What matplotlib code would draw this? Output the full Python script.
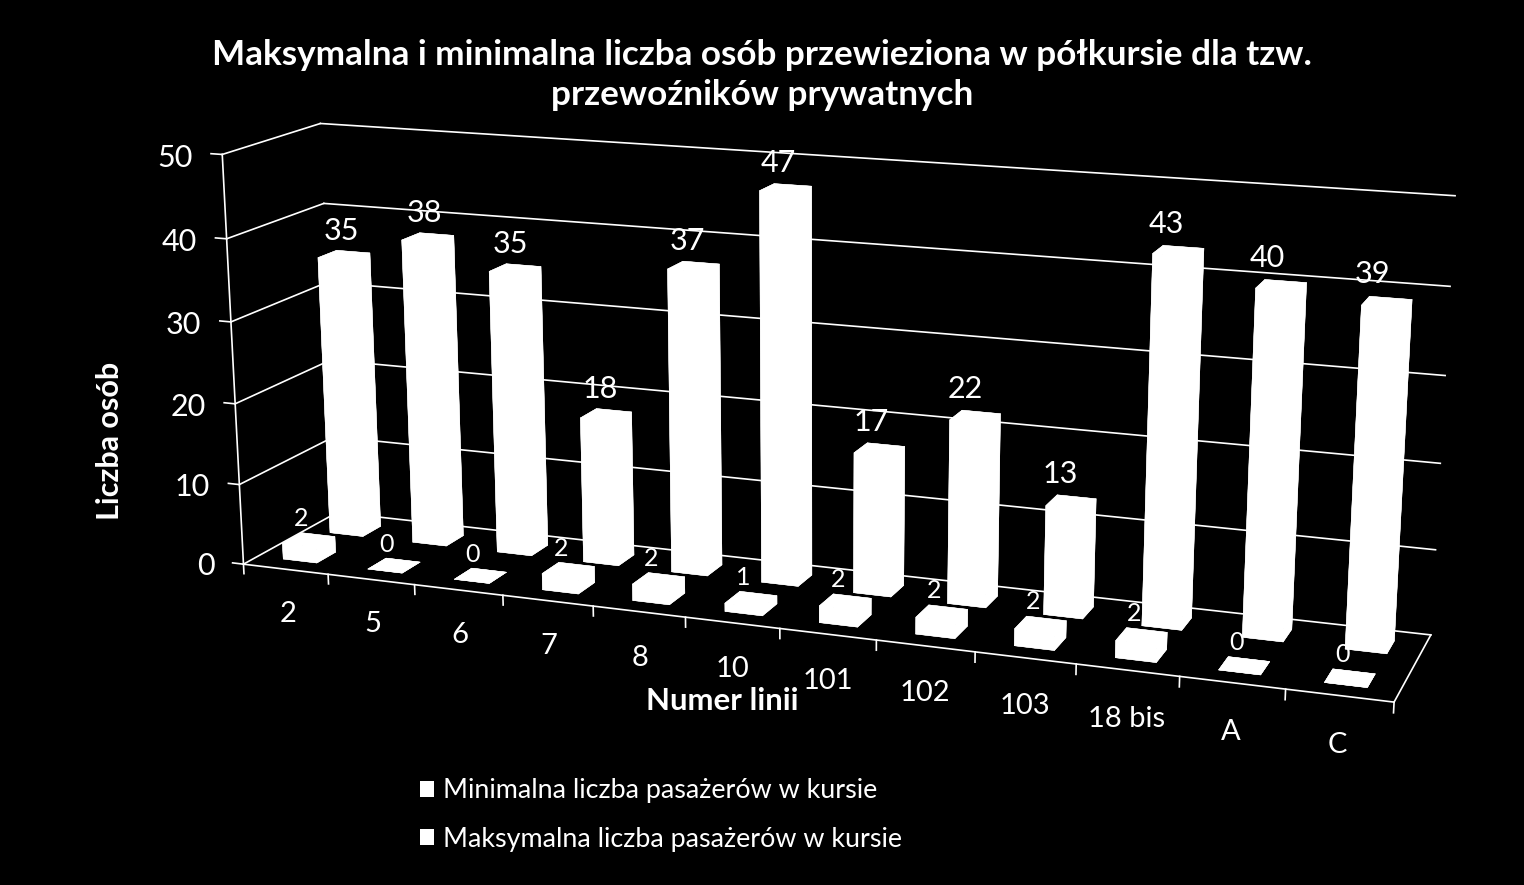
import numpy as np
import matplotlib
matplotlib.use("Agg")
import matplotlib.pyplot as plt
from matplotlib.patches import Patch
from mpl_toolkits.mplot3d import Axes3D

# chart data
lines = ["2", "5", "6", "7", "8", "10", "101", "102", "103", "18 bis", "A", "C"]
min_pass = [2, 0, 0, 2, 2, 1, 2, 2, 2, 2, 0, 0]
max_pass = [35, 38, 35, 18, 37, 47, 17, 22, 13, 43, 40, 39]
z_ticks = [0, 10, 20, 30, 40, 50]

W, H = 1524, 885
plt.rcParams["font.family"] = ["Lato", "DejaVu Sans"]

# camera of the original 3D chart: box corners (x, y, z) and where they sit in the picture
box_pts = [(0, 0, 0), (12, 0, 0), (12, 2, 0), (0, 2, 0), (0, 0, 50), (0, 2, 50), (12, 2, 50),
           (0, 0, 40), (0, 2, 40), (12, 2, 40), (12, 2, 10), (1, 0, 0), (11, 0, 0)]
pix_pts = [(244, 564), (1394, 702), (1431, 634), (336, 512), (222, 154), (321, 124), (1455, 196),
           (226, 238), (324, 204), (1450, 286), (1436, 550), (329, 575), (1285, 690)]


def fit_camera(pts, pix):
    A = []
    b = []
    for (x, y, z), (u, v) in zip(pts, pix):
        A.append([x, y, z, 1, 0, 0, 0, 0, -u * x, -u * y, -u * z])
        b.append(u)
        A.append([0, 0, 0, 0, x, y, z, 1, -v * x, -v * y, -v * z])
        b.append(v)
    p = np.linalg.lstsq(np.array(A, float), np.array(b, float), rcond=None)[0]
    return np.array([p[:4], p[4:8], [0, 0, 0, -1], [p[8], p[9], p[10], 1]])


fig = plt.figure(figsize=(W / 100, H / 100), dpi=100, facecolor="black")
ax = fig.add_axes([0, 0, 1, 1], projection="3d", facecolor="black")
cam = fit_camera(box_pts, pix_pts)


def pixel_proj():
    # camera gives picture pixels, the 3d axes wants its own 2d view box
    x0, x1 = ax.viewLim.intervalx
    y0, y1 = ax.viewLim.intervaly
    s = np.array([[(x1 - x0) / W, 0, 0, x0],
                  [0, -(y1 - y0) / H, 0, y1],
                  [0, 0, 1, 0],
                  [0, 0, 0, 1]])
    return s @ cam


def label3d(x, y, z, s, **kw):
    # text placed at a chart position, written in figure coordinates
    u, v, _, w = cam @ np.array([x, y, z, 1.0])
    fig.text(u / w / W, 1 - v / w / H, s, color="white", va="center", zorder=100, **kw)


ax.get_proj = pixel_proj
ax.apply_aspect = lambda position=None: None
ax.set_xlim(0, 12)
ax.set_ylim(0, 2)
ax.set_zlim(0, 50)
ax.set_axis_off()

n = len(lines)
lc = "white"
lw = 1.2

# back wall, side wall
for z in z_ticks:
    ax.plot([0, n], [2, 2], [z, z], color=lc, lw=lw)
    ax.plot([0, 0], [0, 2], [z, z], color=lc, lw=lw)
    ax.plot([-0.13, 0], [0, 0], [z, z], color=lc, lw=lw)
    label3d(-0.35, 0, z - 0.7, str(z), fontsize=22, ha="right")
ax.plot([0, 0], [0, 0], [0, 50], color=lc, lw=lw)
ax.plot([0, n], [0, 0], [0, 0], color=lc, lw=lw)
ax.plot([n, n], [0, 2], [0, 0], color=lc, lw=lw)
for i in range(n + 1):
    ax.plot([i, i], [0, 0], [0, -1.2], color=lc, lw=lw)

# bars
xs = np.arange(n)
ax.bar3d(xs + 0.3, np.full(n, 0.3), np.zeros(n), 0.4, 0.4, min_pass, color="white", shade=False,
         edgecolor="white", linewidth=0.3)
ax.bar3d(xs + 0.3, np.full(n, 1.3), np.zeros(n), 0.4, 0.4, max_pass, color="white", shade=False,
         edgecolor="white", linewidth=0.3)

# labels
for i in range(n):
    label3d(i + 0.5, 0, -5.6, lines[i], fontsize=21, ha="center")
    label3d(i + 0.42, 0.5, min_pass[i] + 2.6, str(min_pass[i]), fontsize=18, ha="center")
    label3d(i + 0.29, 1.835, max_pass[i] + 2.1, str(max_pass[i]), fontsize=22, ha="center")

fig.text(762 / W, 1 - 75 / H,
         "Maksymalna i minimalna liczba osób przewieziona w półkursie dla tzw.\nprzewoźników prywatnych",
         color="white", fontsize=25.3, fontweight="bold", ha="center", va="center", linespacing=1.3)
fig.text(110 / W, 1 - 441 / H, "Liczba osób", color="white", fontsize=22, fontweight="bold",
         rotation=90, ha="center", va="center")
fig.text(722 / W, 1 - 701 / H, "Numer linii", color="white", fontsize=22.4, fontweight="bold",
         ha="center", va="center", zorder=100)

handles = [Patch(facecolor="white", label="Minimalna liczba pasażerów w kursie"),
           Patch(facecolor="white", label="Maksymalna liczba pasażerów w kursie")]
fig.legend(handles=handles, loc="center left", bbox_to_anchor=(396 / W, 1 - 815 / H), frameon=False,
           labelcolor="white", fontsize=19.4, handlelength=0.52, handleheight=0.52,
           handletextpad=0.33, labelspacing=0.87)

fig.savefig("out.png", dpi=100)
